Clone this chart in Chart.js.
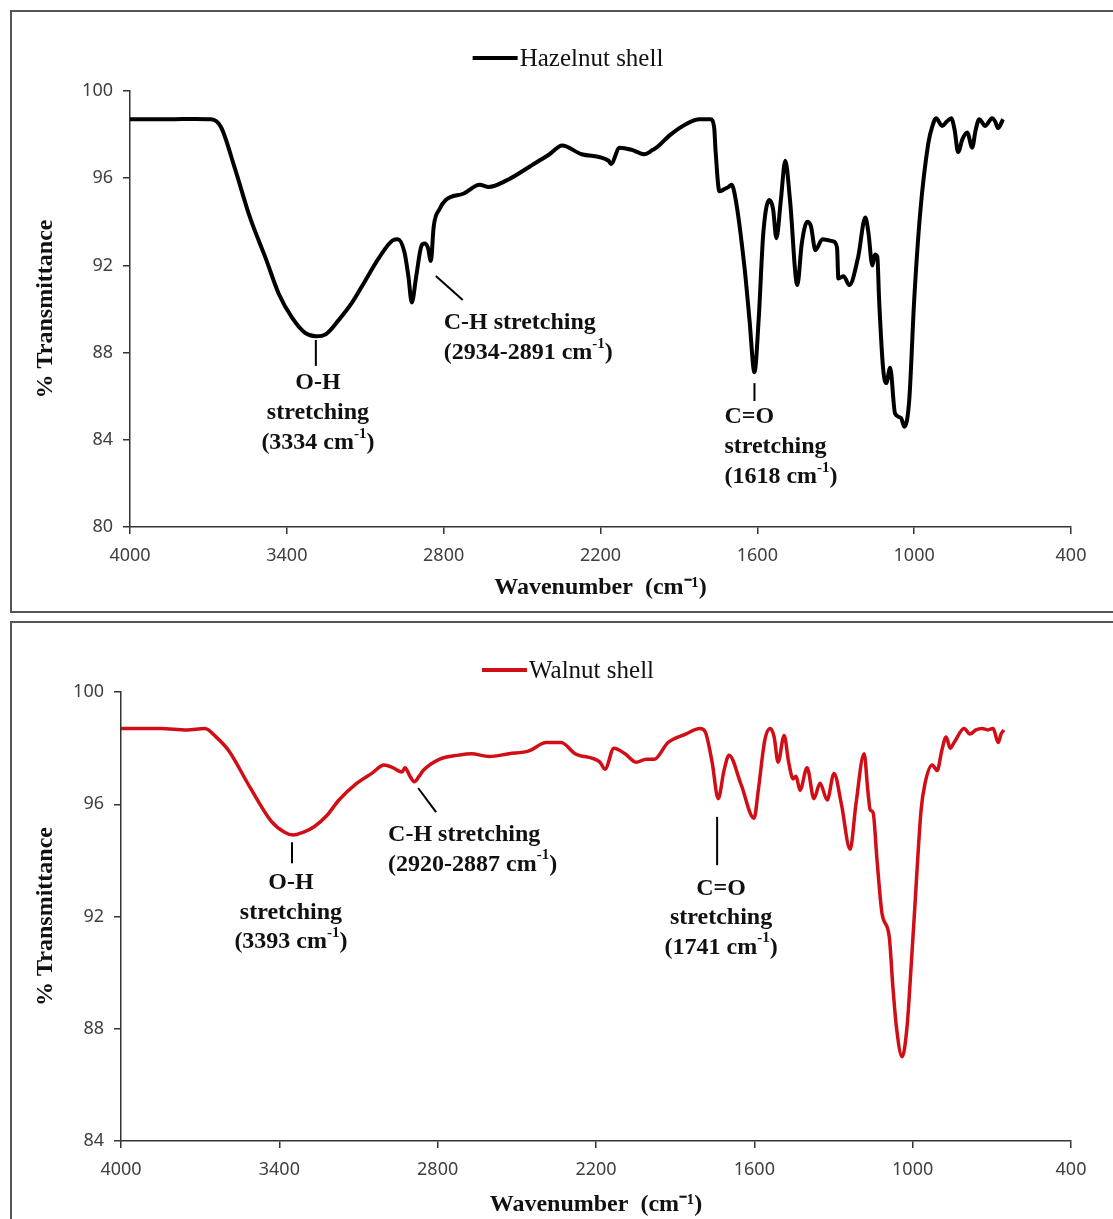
<!DOCTYPE html>
<html lang="en">
<head>
  <meta charset="UTF-8" />
  <title>FTIR spectra - Hazelnut and Walnut shell</title>
  <script src="https://cdn.jsdelivr.net/npm/chart.js"></script>
  <style>
    html, body { margin: 0; padding: 0; background: #fff; overflow: hidden; width: 1113px; height: 1219px; }
    .box { position: absolute; left: 10px; width: 1130px; border: 2px solid #555; box-sizing: border-box; }
    #box1 { top: 10px; height: 603px; }
    #box2 { top: 621px; height: 700px; }
    canvas { position: absolute; left: 0; }
    #hazelChart { top: 0; }
    #walnutChart { top: 612px; }
  </style>
</head>
<body>
  <div class="box" id="box1"></div>
  <div class="box" id="box2"></div>
  <canvas id="hazelChart" width="1113" height="612"></canvas>
  <canvas id="walnutChart" width="1113" height="607"></canvas>

<script>
// axis ticks
const xTicks = [4000, 3400, 2800, 2200, 1600, 1000, 400];
const yTicksHazel = [80, 84, 88, 92, 96, 100];
const yTicksWalnut = [84, 88, 92, 96, 100];

// hazelnut shell spectrum (cm-1 / %T)
const hazelWavenumber = [4000, 3850, 3750, 3690, 3652, 3600, 3541, 3480, 3431, 3380, 3330, 3289, 3250, 3201, 3150,
  3100, 3050, 2995, 2975, 2950, 2935, 2922, 2905, 2885, 2873, 2860, 2849, 2838, 2815, 2792, 2723, 2662, 2628, 2559,
  2449, 2395, 2347, 2272, 2169, 2160, 2127, 2080, 2032, 2000, 1986, 1932, 1870, 1821, 1779, 1765, 1760, 1745, 1726,
  1710, 1699, 1684, 1649, 1630, 1611, 1595, 1577, 1554, 1540, 1527, 1510, 1493, 1475, 1447, 1430, 1409, 1395, 1378,
  1351, 1309, 1295, 1290, 1270, 1248, 1214, 1187, 1175, 1160, 1150, 1141, 1134, 1119, 1107, 1092, 1073, 1050, 1038,
  1019, 1000, 977, 946, 930, 916, 893, 875, 858, 845, 832, 815, 797, 778, 765, 751, 728, 702, 690, 679, 660];
const hazelTransmittance = [98.7, 98.7, 98.72, 98.7, 98.35, 96.5, 94.2, 92.3, 90.7, 89.6, 88.9, 88.75, 88.85, 89.5, 90.3,
  91.3, 92.3, 93.15, 93.2, 92.6, 91.5, 90.3, 91.5, 92.9, 93.0, 92.8, 92.2, 93.8, 94.6, 95.0, 95.3, 95.7, 95.6, 95.9,
  96.7, 97.1, 97.5, 97.1, 96.8, 96.65, 97.4, 97.3, 97.1, 97.3, 97.4, 98.0, 98.5, 98.7, 98.7, 98.3, 97.3, 95.4, 95.5,
  95.6, 95.7, 95.1, 91.9, 89.5, 87.1, 89.5, 93.5, 95.0, 94.6, 93.25, 95.0, 96.8, 95.0, 91.1, 93.0, 94.0, 93.8, 92.7,
  93.2, 93.1, 92.8, 91.4, 91.5, 91.1, 92.4, 94.2, 93.5, 92.0, 92.5, 92.4, 90.4, 87.3, 86.6, 87.3, 85.2, 85.0, 84.6,
  85.8, 90.4, 94.4, 97.6, 98.4, 98.75, 98.4, 98.6, 98.75, 98.2, 97.2, 97.8, 98.1, 97.4, 98.2, 98.7, 98.4, 98.75, 98.6, 98.3, 98.7];

// walnut shell spectrum (cm-1 / %T)
const walnutWavenumber = [4000, 3850, 3750, 3682, 3640, 3591, 3511, 3431, 3380, 3348, 3310, 3268, 3220, 3174, 3106,
  3050, 3003, 2969, 2935, 2924, 2905, 2889, 2870, 2855, 2794, 2720, 2673, 2605, 2530, 2454, 2389, 2347, 2332, 2279,
  2185, 2166, 2132, 2090, 2048, 2010, 1980, 1927, 1860, 1806, 1787, 1760, 1737, 1715, 1696, 1650, 1601, 1585, 1560,
  1540, 1525, 1510, 1487, 1470, 1453, 1442, 1427, 1400, 1374, 1351, 1324, 1298, 1270, 1237, 1215, 1184, 1170, 1161,
  1150, 1135, 1116, 1089, 1075, 1062, 1040, 1021, 1006, 994, 968, 953, 926, 907, 890, 873, 858, 843, 805, 783, 760,
  737, 715, 695, 676, 665, 654];
const walnutTransmittance = [98.7, 98.7, 98.65, 98.7, 98.4, 97.9, 96.6, 95.4, 95.0, 94.9, 95.0, 95.2, 95.6, 96.15, 96.75,
  97.1, 97.4, 97.3, 97.15, 97.3, 97.0, 96.8, 97.0, 97.2, 97.6, 97.75, 97.8, 97.7, 97.8, 97.9, 98.2, 98.2, 98.2, 97.8,
  97.5, 97.25, 98.0, 97.8, 97.5, 97.6, 97.6, 98.2, 98.5, 98.7, 98.6, 97.5, 96.2, 97.2, 97.75, 96.7, 95.5, 96.5, 98.3,
  98.7, 98.4, 97.5, 98.45, 97.5, 96.9, 97.0, 96.5, 97.3, 96.2, 96.75, 96.15, 97.1, 96.0, 94.4, 96.0, 97.8, 96.5, 95.8,
  95.7, 94.0, 92.1, 91.3, 89.5, 88.1, 87.0, 88.1, 90.2, 92.0, 95.8, 96.75, 97.4, 97.2, 97.9, 98.4, 98.0, 98.2, 98.7, 98.5, 98.65,
  98.7, 98.65, 98.7, 98.2, 98.5, 98.65];

const serif = '"Liberation Serif", "Times New Roman", serif';
const tickFont = { family: '"Noto Sans", "Open Sans", sans-serif', size: 18 };

// draws text where ^...^ marks a superscript part
function drawRich(ctx, str, x, y, align) {
  const parts = str.split('^');
  const fonts = parts.map((p, i) => i % 2 ? 'bold 15px ' + serif : 'bold 24px ' + serif);
  let total = 0;
  const widths = parts.map((p, i) => { ctx.font = fonts[i]; const w = ctx.measureText(p).width; total += w; return w; });
  let cx = align === 'center' ? x - total / 2 : x;
  parts.forEach((p, i) => {
    ctx.font = fonts[i];
    ctx.fillText(p, cx, i % 2 ? y - 9 : y);
    cx += widths[i];
  });
}

const irNotes = {
  id: 'irNotes',
  afterDraw(chart, args, opts) {
    const { ctx } = chart;
    const px = v => chart.scales.x.getPixelForValue(v);
    const py = v => chart.scales.y.getPixelForValue(v);
    ctx.save();

    // legend
    const ds = chart.data.datasets[0];
    ctx.font = 'normal 25px ' + serif;
    const tw = ctx.measureText(ds.label).width;
    const x0 = opts.legendX - (45 + 2 + tw) / 2;
    ctx.strokeStyle = ds.borderColor;
    ctx.lineWidth = 4;
    ctx.beginPath();
    ctx.moveTo(x0, opts.legendY);
    ctx.lineTo(x0 + 45, opts.legendY);
    ctx.stroke();
    ctx.fillStyle = '#111';
    ctx.textBaseline = 'middle';
    ctx.textAlign = 'left';
    ctx.fillText(ds.label, x0 + 47, opts.legendY + 1);

    // peak labels
    ctx.strokeStyle = '#000';
    ctx.lineWidth = 2;
    opts.notes.forEach(n => {
      if (n.from) {
        ctx.beginPath();
        ctx.moveTo(px(n.from[0]), py(n.from[1]));
        ctx.lineTo(px(n.to[0]), py(n.to[1]));
        ctx.stroke();
      } else {
        n.lines.forEach((line, i) => drawRich(ctx, line, px(n.at[0]), py(n.at[1]) + i * opts.lineGap, n.align));
      }
    });
    ctx.restore();
  }
};

function makeChart(id, label, color, width, wn, tr, yTicks, layout, notes) {
  const axisGrid = { display: true, drawOnChartArea: false, drawTicks: true, tickLength: 7, color: '#333', lineWidth: 1.5 };
  return new Chart(document.getElementById(id), {
    type: 'line',
    data: {
      datasets: [{
        label: label,
        data: wn.map((x, i) => ({ x: x, y: tr[i] })),
        borderColor: color,
        borderWidth: width,
        pointRadius: 0,
        fill: false,
        cubicInterpolationMode: 'monotone'
      }]
    },
    options: {
      responsive: false,
      animation: false,
      layout: { padding: { top: layout.top, right: 42, bottom: 0, left: 0 } },
      plugins: {
        legend: { display: false },
        tooltip: { enabled: false },
        irNotes: { legendX: 568, legendY: 58, lineGap: layout.gap, notes: notes }
      },
      scales: {
        x: {
          type: 'linear',
          reverse: true,
          min: 400,
          max: 4000,
          afterBuildTicks: s => { s.ticks = xTicks.map(v => ({ value: v })); },
          afterFit: s => { s.height = layout.xh; },
          ticks: { color: '#404040', font: tickFont, padding: 11, maxRotation: 0, callback: v => String(v) },
          grid: axisGrid,
          border: { display: true, color: '#333', width: 1.5 },
          title: { display: true, text: 'Wavenumber  (cm\u207B\u00B9)', color: '#111',
                   font: { family: serif, size: 24, weight: 'bold' }, padding: { top: 0, bottom: layout.xtp } }
        },
        y: {
          min: yTicks[0],
          max: yTicks[yTicks.length - 1],
          afterBuildTicks: s => { s.ticks = yTicks.map(v => ({ value: v })); },
          afterFit: s => { s.width = layout.yw; },
          ticks: { color: '#404040', font: tickFont, padding: 10, callback: v => String(v) },
          grid: axisGrid,
          border: { display: true, color: '#333', width: 1.5 },
          title: { display: true, text: '% Transmittance', color: '#111',
                   font: { family: serif, size: 24, weight: 'bold' }, padding: { top: 31, bottom: 0 } }
        }
      }
    },
    plugins: [irNotes]
  });
}

makeChart('hazelChart', 'Hazelnut shell', '#000000', 4, hazelWavenumber, hazelTransmittance, yTicksHazel,
  { top: 91, xh: 85, xtp: 10, yw: 130, gap: 30 },
  [
    { from: [3289, 88.58], to: [3289, 87.39] },
    { at: [3281, 86.61], align: 'center', lines: ['O-H', 'stretching', '(3334 cm^-1^)'] },
    { from: [2830, 91.51], to: [2727, 90.41] },
    { at: [2800, 89.36], align: 'left', lines: ['C-H stretching', '(2934-2891 cm^-1^)'] },
    { from: [1611, 86.6], to: [1611, 85.78] },
    { at: [1726, 85.05], align: 'left', lines: ['C=O', 'stretching', '(1618 cm^-1^)'] }
  ]);

makeChart('walnutChart', 'Walnut shell', '#d10d16', 3.5, walnutWavenumber, walnutTransmittance, yTicksWalnut,
  { top: 80, xh: 78, xtp: 0, yw: 121, gap: 29.5 },
  [
    { from: [3352, 94.65], to: [3352, 93.9] },
    { at: [3356, 93.19], align: 'center', lines: ['O-H', 'stretching', '(3393 cm^-1^)'] },
    { from: [2874, 96.58], to: [2806, 95.72] },
    { at: [2988, 94.9], align: 'left', lines: ['C-H stretching', '(2920-2887 cm^-1^)'] },
    { from: [1741, 95.55], to: [1741, 93.83] },
    { at: [1726, 93.0], align: 'center', lines: ['C=O', 'stretching', '(1741 cm^-1^)'] }
  ]);
</script>
</body>
</html>
